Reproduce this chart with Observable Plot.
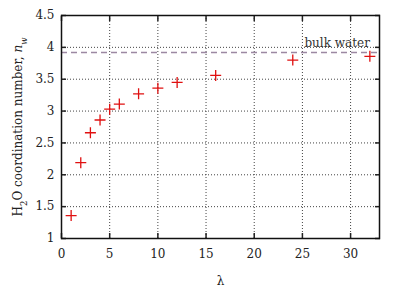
<!DOCTYPE html>
<html><head><meta charset="utf-8">
<script src="https://cdn.jsdelivr.net/npm/d3@7"></script>
<script src="https://cdn.jsdelivr.net/npm/@observablehq/plot@0.6"></script>
<style>body{margin:0;background:#fff} svg text{font-family:"DejaVu Serif",serif !important;}</style>
</head><body><div id="chart"></div>
<script>
const lambda = [1, 2, 3, 4, 5, 6, 8, 10, 12, 16, 24, 32];
const nw = [1.36, 2.19, 2.66, 2.86, 3.03, 3.11, 3.27, 3.36, 3.45, 3.56, 3.80, 3.86];
const bulkWater = 3.92;
const bulkLabel = "bulk water";
const xTicks = [0, 5, 10, 15, 20, 25, 30];
const yTicks = [1, 1.5, 2, 2.5, 3, 3.5, 4, 4.5];
const xGrid = [5, 10, 15, 20, 25, 30];
const yGrid = [1.5, 2, 2.5, 3, 3.5, 4];

const data = lambda.map((l, i) => ({l, n: nw[i]}));

const plusSymbol = {
  draw(ctx, size) {
    const r = Math.sqrt(size / Math.PI);
    ctx.moveTo(-r, 0); ctx.lineTo(r, 0);
    ctx.moveTo(0, -r); ctx.lineTo(0, r);
  }
};

const font = "'DejaVu Serif', serif";
const plot = Plot.plot({
  width: 399, height: 289,
  marginLeft: 61, marginRight: 20, marginTop: 15, marginBottom: 51,
  style: {fontFamily: font, fontSize: "12px", color: "#222", background: "#fff"},
  x: {domain: [0, 33]},
  y: {domain: [1, 4.5]},
  marks: [
    Plot.ruleX(xGrid, {stroke: "#444", strokeDasharray: "1,2", strokeWidth: 1}),
    Plot.ruleY(yGrid, {stroke: "#444", strokeDasharray: "1,2", strokeWidth: 1}),
    Plot.ruleY([bulkWater], {stroke: "#9c88a2", strokeWidth: 1.6, strokeDasharray: "6,4"}),
    Plot.text([bulkLabel], {x: [32], y: [bulkWater], text: d => d, textAnchor: "end", dy: -9, fill: "#333", fontSize: 12}),
    Plot.axisX({ticks: xTicks, tickSize: 0, tickPadding: 11, label: "λ", labelAnchor: "center", labelArrow: "none", labelOffset: 46, fill: "#222"}),
    Plot.axisX({ticks: xTicks, anchor: "bottom", tickSize: -5, tickFormat: () => "", label: null, strokeWidth: 1.5}),
    Plot.axisX({ticks: xTicks, anchor: "top", tickSize: -5, tickFormat: () => "", label: null, strokeWidth: 1.5}),
    Plot.axisY({ticks: yTicks, tickSize: 0, tickPadding: 7, label: "H2O coordination number, nw", labelAnchor: "center", labelArrow: "none", labelOffset: 48, fill: "#222", tickFormat: d => String(d)}),
    Plot.axisY({ticks: yTicks, anchor: "left", tickSize: -5, tickFormat: () => "", label: null, strokeWidth: 1.5}),
    Plot.axisY({ticks: yTicks, anchor: "right", tickSize: -5, tickFormat: () => "", label: null, strokeWidth: 1.5}),
    Plot.frame({stroke: "#111", strokeWidth: 1.5}),
    Plot.dot(data, {x: "l", y: "n", symbol: plusSymbol, r: 5.5, stroke: "#e01010", strokeWidth: 1.3, fill: "none"})
  ]
});
document.getElementById("chart").appendChild(plot);
// format y label with subscript and italics
d3.select(plot).selectAll('g[aria-label="y-axis label"] text').each(function() {
  const t = d3.select(this);
  t.text(null);
  t.append("tspan").text("H");
  t.append("tspan").attr("baseline-shift", "sub").attr("font-size", "8.5px").text("2");
  t.append("tspan").text("O coordination number, ");
  t.append("tspan").attr("font-style", "italic").text("n");
  t.append("tspan").attr("baseline-shift", "sub").attr("font-size", "8.5px").attr("font-style", "italic").text("w");
});
</script>
</body></html>
